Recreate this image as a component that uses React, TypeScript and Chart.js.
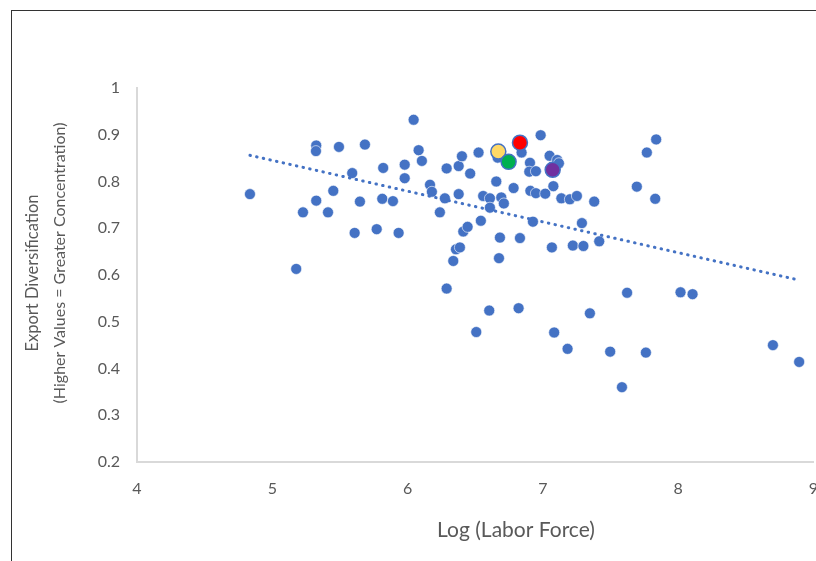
import { useEffect, useRef } from 'react';
import { Chart, registerables } from 'chart.js';

Chart.register(...registerables);

// Log (Labor Force) for every country
const laborForceLog = [
  4.835, 5.177, 5.227, 5.325, 5.323, 5.325, 5.412, 5.451, 5.493, 5.591,
  5.609, 5.648, 5.685, 5.772, 5.813, 5.820, 5.892, 5.934, 5.979, 5.979,
  6.045, 6.082, 6.106, 6.166, 6.180, 6.239, 6.276, 6.289, 6.289, 6.338,
  6.358, 6.387, 6.378, 6.378, 6.402, 6.412, 6.444, 6.463, 6.508, 6.525,
  6.542, 6.559, 6.604, 6.609, 6.609, 6.656, 6.666, 6.676, 6.683, 6.693,
  6.712, 6.784, 6.821, 6.831, 6.843, 6.905, 6.900, 6.949, 6.908, 6.949,
  6.927, 6.984, 7.018, 7.050, 7.106, 7.119, 7.067, 7.078, 7.084, 7.137,
  7.183, 7.200, 7.222, 7.252, 7.289, 7.300, 7.348, 7.380, 7.417, 7.498,
  7.585, 7.623, 7.695, 7.762, 7.769, 7.838, 7.831, 8.018, 8.107, 8.701,
  8.895,
];

// Export Diversification index for every country
const exportDiversification = [
  0.773, 0.613, 0.734, 0.877, 0.865, 0.759, 0.734, 0.780, 0.874, 0.818,
  0.690, 0.757, 0.879, 0.698, 0.763, 0.829, 0.758, 0.690, 0.836, 0.807,
  0.932, 0.867, 0.844, 0.793, 0.778, 0.734, 0.764, 0.828, 0.571, 0.630,
  0.655, 0.659, 0.773, 0.833, 0.854, 0.693, 0.703, 0.817, 0.478, 0.862,
  0.716, 0.769, 0.524, 0.764, 0.744, 0.800, 0.851, 0.636, 0.680, 0.766,
  0.753, 0.786, 0.529, 0.679, 0.862, 0.840, 0.821, 0.822, 0.780, 0.775,
  0.714, 0.899, 0.774, 0.855, 0.846, 0.839, 0.659, 0.790, 0.477, 0.764,
  0.442, 0.762, 0.663, 0.769, 0.711, 0.662, 0.518, 0.757, 0.672, 0.436,
  0.360, 0.562, 0.789, 0.434, 0.862, 0.890, 0.763, 0.563, 0.559, 0.450,
  0.414,
];

// Highlighted countries
const highlightX = [6.831, 6.671, 6.747, 7.073];
const highlightY = [0.883, 0.864, 0.842, 0.825];
const highlightColors = ['#FF0000', '#FFD966', '#00B050', '#7030A0'];

// Linear trend line end points
const trendX = [4.835, 8.895];
const trendY = [0.856, 0.589];

// Axis ticks
const xTicks = [4, 5, 6, 7, 8, 9];
const xTickLabels = ['4', '5', '6', '7', '8', '9'];
const yTicks = [0.2, 0.3, 0.4, 0.5, 0.6, 0.7, 0.8, 0.9, 1];
const yTickLabels = ['0.2', '0.3', '0.4', '0.5', '0.6', '0.7', '0.8', '0.9', '1'];

const xTitle = 'Log (Labor Force)';
const yTitleLines = ['Export Diversification', '(Higher Values = Greater Concentration)'];

const BLUE = '#4472C4';
const TEXT = '#595959';
const FONT = 'Lato';

export default function App() {
  const ref = useRef<HTMLCanvasElement>(null);

  useEffect(() => {
    document.body.style.margin = '0';
    const canvas = ref.current;
    if (!canvas) return;

    const titlePlugin = {
      id: 'axisTitles',
      afterDraw(chart: any) {
        const ctx = chart.ctx as CanvasRenderingContext2D;
        ctx.save();
        ctx.fillStyle = TEXT;
        ctx.textAlign = 'center';
        ctx.textBaseline = 'middle';
        ctx.font = `21px ${FONT}`;
        ctx.fillText(xTitle, 516, 530);
        const lineX = [33, 60];
        const lineY = [273, 263];
        const lineSize = [16.5, 16];
        yTitleLines.forEach((line, i) => {
          ctx.save();
          ctx.font = `${lineSize[i]}px ${FONT}`;
          ctx.translate(lineX[i], lineY[i]);
          ctx.rotate(-Math.PI / 2);
          ctx.fillText(line, 0, 0);
          ctx.restore();
        });
        ctx.restore();
      },
    };

    const chart = new Chart(canvas, {
      type: 'scatter',
      data: {
        datasets: [
          {
            label: 'Highlighted',
            data: highlightX.map((x, i) => ({ x, y: highlightY[i] })),
            backgroundColor: highlightColors,
            borderColor: BLUE,
            borderWidth: 1.5,
            pointRadius: 7.5,
            order: 0,
          },
          {
            label: 'Trend',
            type: 'line',
            data: trendX.map((x, i) => ({ x, y: trendY[i] })),
            borderColor: BLUE,
            borderWidth: 3,
            borderDash: [0.5, 6.3],
            borderCapStyle: 'round',
            pointRadius: 0,
            fill: false,
            order: 1,
          } as any,
          {
            label: 'Countries',
            data: laborForceLog.map((x, i) => ({ x, y: exportDiversification[i] })),
            backgroundColor: BLUE,
            borderColor: 'rgba(255,255,255,0.75)',
            borderWidth: 0.8,
            pointRadius: 5.5,
            order: 2,
          },
        ],
      },
      options: {
        responsive: false,
        animation: false,
        layout: { padding: { top: 88, left: 0, right: 10, bottom: 0 } },
        plugins: {
          legend: { display: false },
          tooltip: { enabled: false },
        },
        scales: {
          x: {
            type: 'linear',
            min: 4,
            max: 9,
            grid: { display: false, drawTicks: false },
            border: { display: true, color: '#D9D9D9', width: 2 },
            afterFit: (scale: any) => {
              scale.height = 99;
            },
            afterBuildTicks: (scale: any) => {
              scale.ticks = xTicks.map((v) => ({ value: v }));
            },
            ticks: {
              color: TEXT,
              font: { family: FONT, size: 16 },
              padding: 17,
              maxRotation: 0,
              callback: (v: any) => xTickLabels[xTicks.indexOf(Number(v))] ?? '',
            },
          },
          y: {
            type: 'linear',
            min: 0.2,
            max: 1,
            grid: { display: false, drawTicks: false },
            border: { display: true, color: '#D9D9D9', width: 2 },
            afterFit: (scale: any) => {
              scale.width = 137;
            },
            afterBuildTicks: (scale: any) => {
              scale.ticks = yTicks.map((v) => ({ value: v }));
            },
            ticks: {
              color: TEXT,
              font: { family: FONT, size: 16 },
              padding: 17,
              callback: (v: any) => {
                const idx = yTicks.findIndex((t) => Math.abs(t - Number(v)) < 1e-6);
                return idx >= 0 ? yTickLabels[idx] : '';
              },
            },
          },
        },
      },
      plugins: [titlePlugin],
    });

    return () => chart.destroy();
  }, []);

  return (
    <div
      style={{
        position: 'fixed',
        left: 0,
        top: 0,
        width: 816,
        height: 561,
        overflow: 'hidden',
        background: '#ffffff',
      }}
    >
      <div
        style={{
          position: 'absolute',
          left: 11,
          top: 10,
          width: 900,
          height: 700,
          borderLeft: '1px solid #333',
          borderTop: '1px solid #333',
        }}
      />
      <canvas
        ref={ref}
        width={835}
        height={561}
        style={{ position: 'absolute', left: 0, top: 0, width: 835, height: 561 }}
      />
    </div>
  );
}
